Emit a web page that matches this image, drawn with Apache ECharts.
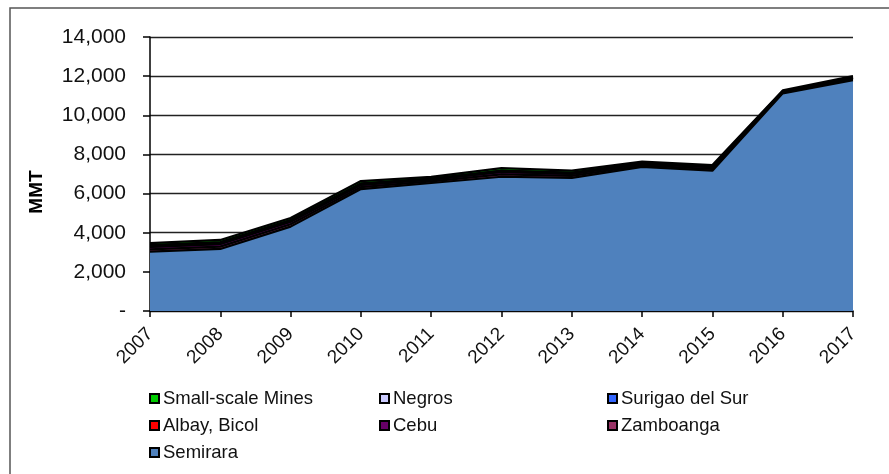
<!DOCTYPE html>
<html><head><meta charset="utf-8">
<script src="https://cdn.jsdelivr.net/npm/echarts@6/dist/echarts.min.js"></script>
<style>html,body{margin:0;padding:0;background:#fff}#c{width:889px;height:474px}</style>
</head><body><div id="c"></div>
<script>
const years = ['2007','2008','2009','2010','2011','2012','2013','2014','2015','2016','2017'];
const yTicks = [0,2000,4000,6000,8000,10000,12000,14000];
const semirara = [3030,3170,4310,6230,6540,6860,6800,7360,7170,11120,11800];
const zamboanga = [120,120,120,100,80,120,100,75,85,40,60];
const cebu = [120,130,130,110,90,130,110,80,100,40,60];
const albay = [20,20,20,20,10,10,10,10,10,10,10];
const surigao = [60,60,50,40,30,40,30,20,20,10,10];
const negros = [20,20,20,20,20,20,20,15,15,10,10];
const smallScale = [100,110,100,120,80,120,100,70,60,40,50];

const seriesDefs = [
  ['Semirara', semirara, '#4F81BD'],
  ['Zamboanga', zamboanga, '#993366'],
  ['Cebu', cebu, '#660066'],
  ['Albay, Bicol', albay, '#FF0000'],
  ['Surigao del Sur', surigao, '#3366FF'],
  ['Negros', negros, '#CCCCFF'],
  ['Small-scale Mines', smallScale, '#00CC00']
];
const font = 'Liberation Sans, Arial, sans-serif';
const legendCommon = {
  orient: 'vertical', itemWidth: 9, itemHeight: 9, itemGap: 8,
  icon: 'rect', padding: 0,
  itemStyle: {borderColor: '#000', borderWidth: 2},
  textStyle: {fontFamily: font, fontSize: 18.5, lineHeight: 18, color: '#111', padding: [0,0,0,-1]},
  selectedMode: false
};
const chart = echarts.init(document.getElementById('c'));
chart.setOption({
  animation: false,
  graphic: [
    {type: 'rect', shape: {x: 10, y: 8, width: 900, height: 500}, style: {fill: 'none', stroke: '#555', lineWidth: 1.5}, silent: true},
    {type: 'text', x: 37, y: 192, rotation: Math.PI/2, style: {text: 'MMT', font: 'bold 19px ' + font, fill: '#000', align: 'center', verticalAlign: 'middle'}}
  ],
  grid: {left: 150, right: 36, top: 37, bottom: 163},
  legend: [
    Object.assign({left: 149, top: 389, data: ['Small-scale Mines','Albay, Bicol','Semirara']}, legendCommon),
    Object.assign({left: 379, top: 389, data: ['Negros','Cebu']}, legendCommon),
    Object.assign({left: 607, top: 389, data: ['Surigao del Sur','Zamboanga']}, legendCommon)
  ],
  xAxis: {
    type: 'category', data: years, boundaryGap: false,
    axisLine: {lineStyle: {color: '#000', width: 1.5}},
    axisTick: {show: true, length: 6, lineStyle: {color: '#000', width: 1.5}},
    axisLabel: {rotate: 45, fontFamily: font, fontSize: 19, color: '#111', margin: 20},
    splitLine: {show: false}
  },
  yAxis: {
    type: 'value', min: 0, max: 14000, interval: 2000,
    axisLine: {show: true, lineStyle: {color: '#000', width: 1.5}},
    axisTick: {show: true, length: 7, inside: false, lineStyle: {color: '#000', width: 1.5}},
    axisLabel: {fontFamily: font, fontSize: 21, color: '#111', margin: 24,
      formatter: v => v === 0 ? '-' : v.toLocaleString('en-US')},
    splitLine: {show: true, lineStyle: {color: '#222', width: 1.3}}
  },
  series: seriesDefs.map(([name, data, color]) => ({
    name, type: 'line', stack: 'total', data,
    symbol: 'none', smooth: false,
    lineStyle: {color: '#000', width: 2.2},
    areaStyle: {color: color, opacity: 1},
    itemStyle: {color: color},
    emphasis: {disabled: true}
  }))
});
</script></body></html>
